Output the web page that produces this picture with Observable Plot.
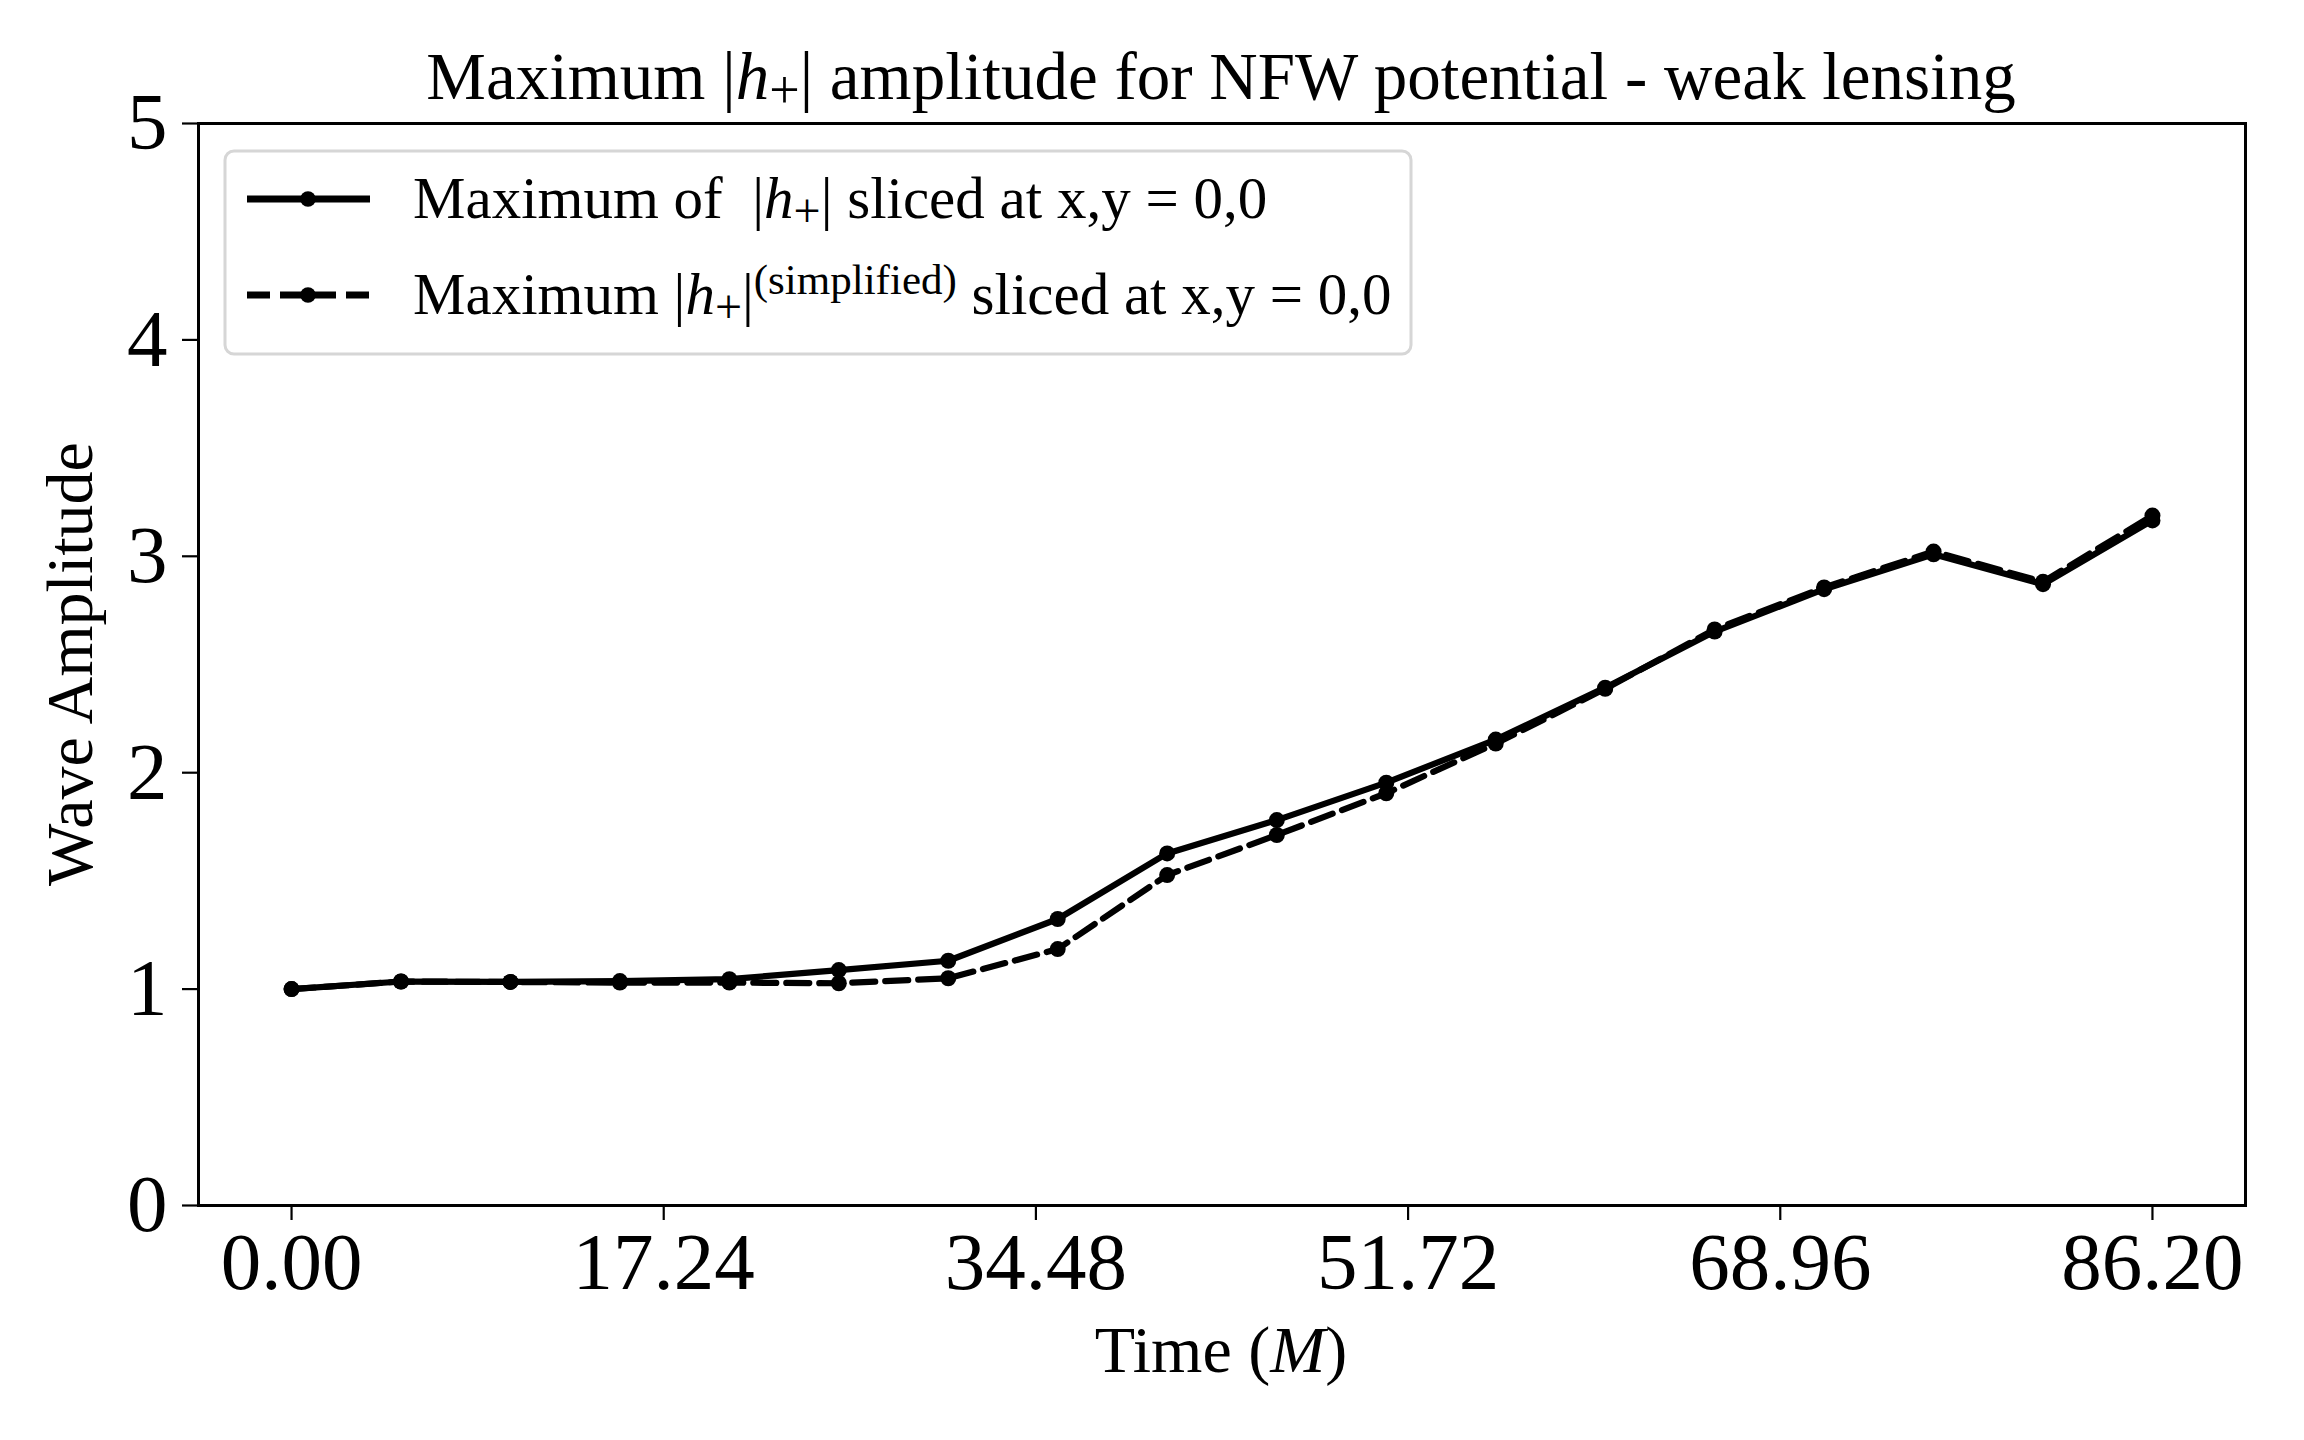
<!DOCTYPE html>
<html>
<head>
<meta charset="utf-8">
<script src="https://cdn.jsdelivr.net/npm/d3@7"></script>
<script src="https://cdn.jsdelivr.net/npm/@observablehq/plot@0.6"></script>
<style>
  html, body { margin: 0; padding: 0; background: #fff; }
  #chart svg { display: block; overflow: visible; }
</style>
</head>
<body>
<div id="chart"></div>
<script>
// Sample times (units of M)
const times = [0.00, 5.07, 10.14, 15.21, 20.28, 25.35, 30.42, 35.49, 40.56,
               45.64, 50.71, 55.78, 60.85, 65.92, 70.99, 76.06, 81.13, 86.20];

// Maximum |h+| at x,y = 0,0 (full computation)
const maxFull = [1.000, 1.035, 1.033, 1.037, 1.046, 1.088, 1.131, 1.324, 1.627,
                 1.781, 1.954, 2.153, 2.393, 2.652, 2.848, 3.009, 2.871, 3.166];

// Maximum |h+| at x,y = 0,0 (simplified computation)
const maxSimplified = [1.000, 1.035, 1.033, 1.030, 1.030, 1.027, 1.050, 1.185, 1.527,
                       1.712, 1.905, 2.135, 2.388, 2.662, 2.856, 3.022, 2.882, 3.188];

const xTicks = [0, 17.24, 34.48, 51.72, 68.96, 86.20];
const yTicks = [0, 1, 2, 3, 4, 5];

const seriesNames = ["full", "simplified"];

const rows = times.flatMap((t, i) => [
  {t, amp: maxFull[i], series: seriesNames[0]},
  {t, amp: maxSimplified[i], series: seriesNames[1]}
]);

const FONT = "'Liberation Serif', 'Times New Roman', Times, serif";
const LW = 6.2;
const DASH = "23,10";

const chart = Plot.plot({
  width: 2304,
  height: 1440,
  marginLeft: 198,
  marginRight: 59,
  marginTop: 123,
  marginBottom: 235,
  style: {fontFamily: FONT, background: "white", color: "black"},
  x: {domain: [-4.31, 90.51]},
  y: {domain: [0, 5]},
  marks: [
    Plot.axisX({ticks: xTicks, tickFormat: d => d.toFixed(2), tickSize: 15, tickPadding: 11,
                fontSize: 81, strokeWidth: 2.2, label: null}),
    Plot.axisY({ticks: yTicks, tickFormat: d => String(d), tickSize: 16, tickPadding: 15,
                fontSize: 81, strokeWidth: 2.2, label: null}),
    Plot.line(rows.filter(d => d.series === "full"),
              {x: "t", y: "amp", stroke: "black", strokeWidth: LW, strokeLinejoin: "round"}),
    Plot.line(rows.filter(d => d.series === "simplified"),
              {x: "t", y: "amp", stroke: "black", strokeWidth: LW, strokeDasharray: DASH}),
    Plot.dot(rows, {x: "t", y: "amp", r: 8, fill: "black", stroke: "none"}),
    Plot.frame({stroke: "black", strokeWidth: 3})
  ]
});

document.getElementById("chart").appendChild(chart);

const svg = d3.select(chart);

// Helper: write a run of text pieces into a <text> element
function richText(sel, parts) {
  for (const p of parts) {
    const t = sel.append("tspan").text(p.text);
    if (p.italic) t.attr("font-style", "italic");
    if (p.size) t.attr("font-size", p.size);
    if (p.dy) t.attr("dy", p.dy);
  }
  return sel;
}

// Title
richText(
  svg.append("text")
    .attr("x", 1221).attr("y", 99)
    .attr("text-anchor", "middle")
    .attr("font-family", FONT).attr("font-size", 67).attr("fill", "black"),
  [
    {text: "Maximum |"},
    {text: "h", italic: true},
    {text: "+", size: 54, dy: 9},
    {text: "| amplitude for NFW potential - weak lensing", dy: -9}
  ]
);

// X axis label
richText(
  svg.append("text")
    .attr("x", 1221).attr("y", 1372)
    .attr("text-anchor", "middle")
    .attr("font-family", FONT).attr("font-size", 66).attr("fill", "black"),
  [
    {text: "Time ("},
    {text: "M", italic: true},
    {text: ")"}
  ]
);

// Y axis label
svg.append("text")
  .attr("transform", "translate(92,664) rotate(-90)")
  .attr("text-anchor", "middle")
  .attr("font-family", FONT).attr("font-size", 66).attr("fill", "black")
  .text("Wave Amplitude");

// Legend
const legend = svg.append("g").attr("text-anchor", "start");
legend.append("rect")
  .attr("x", 225).attr("y", 151).attr("width", 1186).attr("height", 203)
  .attr("rx", 9).attr("ry", 9)
  .attr("fill", "white").attr("fill-opacity", 0.8)
  .attr("stroke", "#d6d6d6").attr("stroke-width", 3);

const legendRows = [
  {
    y: 199, dash: null,
    parts: [
      {text: "Maximum of  |"},
      {text: "h", italic: true},
      {text: "+", size: 48, dy: 9},
      {text: "| sliced at x,y = 0,0", dy: -9}
    ]
  },
  {
    y: 295, dash: DASH,
    parts: [
      {text: "Maximum |"},
      {text: "h", italic: true},
      {text: "+", size: 48, dy: 9},
      {text: "|", dy: -9},
      {text: "(simplified)", size: 43, dy: -20},
      {text: " sliced at x,y = 0,0", dy: 20}
    ]
  }
];

for (const row of legendRows) {
  const ln = legend.append("line")
    .attr("x1", 247).attr("x2", 370)
    .attr("y1", row.y).attr("y2", row.y)
    .attr("stroke", "black").attr("stroke-width", 7);
  if (row.dash) ln.attr("stroke-dasharray", row.dash);
  legend.append("circle")
    .attr("cx", 308).attr("cy", row.y).attr("r", 7.8)
    .attr("fill", "black");
  richText(
    legend.append("text")
      .attr("x", 413).attr("y", row.y + 19)
      .attr("text-anchor", "start")
      .attr("font-family", FONT).attr("font-size", 59).attr("fill", "black")
      .style("white-space", "pre"),
    row.parts
  );
}
</script>
</body>
</html>
